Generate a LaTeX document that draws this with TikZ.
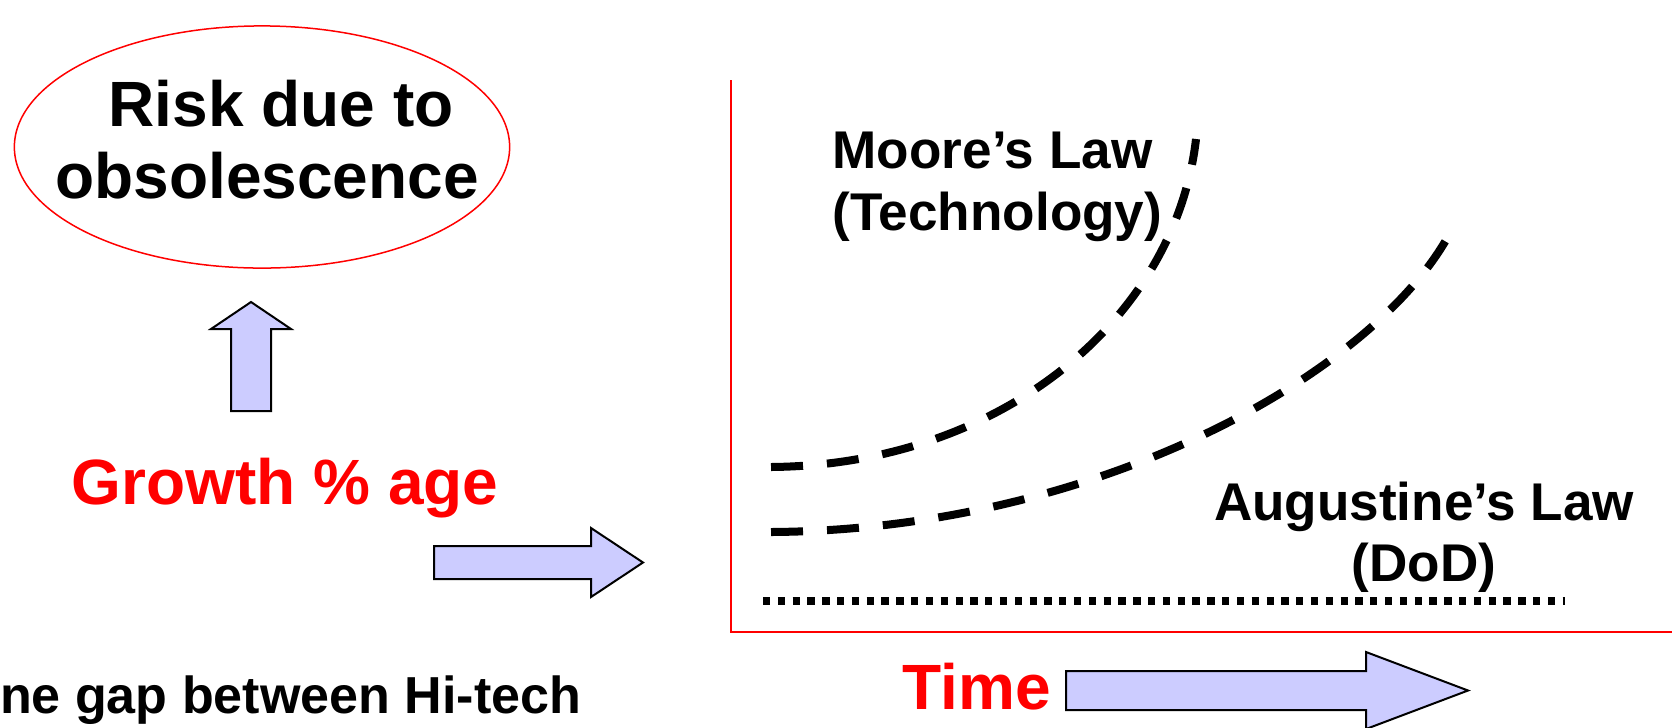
\documentclass[tikz,border=0pt]{standalone}
\usepackage{fontspec}
\setmainfont{Liberation Sans}
\usetikzlibrary{shapes.geometric}
\definecolor{arrowblue}{HTML}{CCCCFF}

\begin{document}
\begin{tikzpicture}[x=0.01cm, y=-0.01cm,
  every node/.style={inner sep=0pt, anchor=base},
  bigtext/.style={font=\fontsize{18.2pt}{20pt}\selectfont\bfseries},
  lawtext/.style={font=\fontsize{15.1pt}{17pt}\selectfont\bfseries},
  blockarrow/.style={draw=black, fill=arrowblue, line width=0.02cm, line join=miter},
  lawcurve/.style={line width=0.08cm, dash pattern=on 0.32cm off 0.24cm}]
  \useasboundingbox (0,0) rectangle (1680,727);

  % left part: risk and growth
  \node [ellipse, draw=red, line width=0.015cm, anchor=center,
         minimum width=4.95cm, minimum height=2.42cm] (risk) at (262,147) {};
  \node [bigtext] (riskA) at (281,126) {Risk due to};
  \node [bigtext] (riskB) at (267,198) {obsolescence};

  \draw [blockarrow] (231,411) -- (231,329) -- (211,329) -- (251,302)
        -- (291,329) -- (271,329) -- (271,411) -- cycle;
  \node [bigtext, text=red] (growth) at (285,504) {Growth \% age};

  \draw [blockarrow] (434,546) -- (591,546) -- (591,528) -- (643,562.5)
        -- (591,597) -- (591,579) -- (434,579) -- cycle;

  \node [font=\fontsize{14.8pt}{17pt}\selectfont\bfseries, anchor=base east]
        (gap) at (582,713) {ne gap between Hi-tech};

  % right part: the graph
  \coordinate (origin) at (731,632);
  \draw [red, line width=0.02cm] (731,80) -- (origin) -- (1672,632);

  \draw [line width=0.073cm, dash pattern=on 0.073cm off 0.075cm] (763,601) -- (1565,601);
  \draw [lawcurve] (771,467) .. controls (1000,465) and (1175,320) .. (1196,139);
  \draw [lawcurve] (771,532) .. controls (1100,530) and (1380,370) .. (1452,229);

  \node [lawtext, anchor=base west] (mooreA) at (832,168) {Moore’s Law};
  \node [lawtext, anchor=base west] (mooreB) at (832,230) {(Technology)};
  \node [lawtext] (augA) at (1424,520) {Augustine’s Law};
  \node [lawtext] (augB) at (1424,581) {(DoD)};

  \node [bigtext, text=red] (time) at (977,709) {Time};
  \draw [blockarrow] (1066,671) -- (1366,671) -- (1366,652) -- (1468,690.5)
        -- (1366,729) -- (1366,710) -- (1066,710) -- cycle;
\end{tikzpicture}
\end{document}
